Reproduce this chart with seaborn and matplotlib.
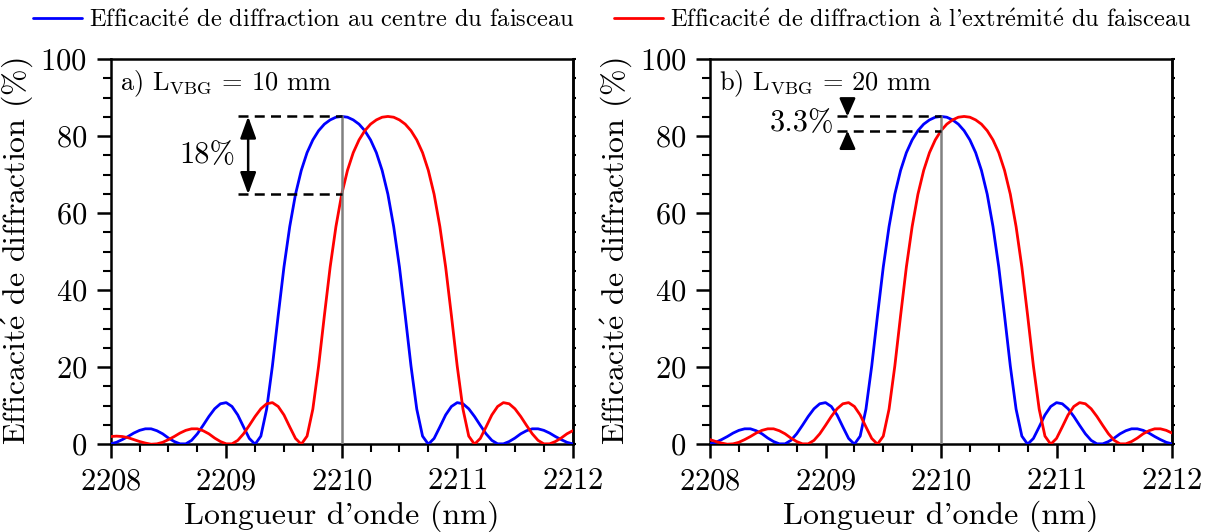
import numpy as np
import pandas as pd
import matplotlib
matplotlib.use('Agg')
import matplotlib.pyplot as plt
from matplotlib.lines import Line2D
from matplotlib.ticker import MultipleLocator
import seaborn as sns

# wavelength sampling (nm), 0.05 nm step
wavelength = np.round(np.arange(2208.0, 2212.001, 0.05), 2)

# diffraction efficiency (%)
# beam centre (same curve in both panels)
eff_centre = [0.1, 0.5, 1.2, 2.0, 2.9, 3.6, 4.0, 4.0, 3.5, 2.7, 1.6, 0.7, 0.1, 0.1, 1.0, 2.7, 4.9,
              7.2, 9.2, 10.5, 10.8, 9.8, 7.6, 4.5, 1.5, 0.0, 2.1, 9.1, 20.3, 33.4, 46.0, 56.5, 64.9,
              71.1, 75.7, 79.0, 81.4, 83.1, 84.2, 84.9, 85.1,
              84.9, 84.2, 83.1, 81.4, 79.0, 75.7, 71.1, 64.9, 56.5, 46.0, 33.4, 20.3, 9.1, 2.1, 0.0,
              1.5, 4.5, 7.6, 9.8, 10.8, 10.5, 9.2, 7.2, 4.9, 2.7, 1.0, 0.1, 0.1, 0.7, 1.6, 2.7, 3.5,
              4.0, 4.0, 3.6, 2.9, 2.0, 1.2, 0.5, 0.1]

# beam edge, L_VBG = 10 mm
eff_bord_10mm = [2.0, 2.1, 2.0, 1.7, 1.2, 0.7, 0.3, 0.0,
                 0.1, 0.5, 1.2, 2.0, 2.9, 3.6, 4.0, 4.0, 3.5, 2.7, 1.6, 0.7, 0.1, 0.1, 1.0, 2.7, 4.9,
                 7.2, 9.2, 10.5, 10.8, 9.8, 7.6, 4.5, 1.5, 0.0, 2.1, 9.1, 20.3, 33.4, 46.0, 56.5, 64.9,
                 71.1, 75.7, 79.0, 81.4, 83.1, 84.2, 84.9, 85.1,
                 84.9, 84.2, 83.1, 81.4, 79.0, 75.7, 71.1, 64.9, 56.5, 46.0, 33.4, 20.3, 9.1, 2.1, 0.0,
                 1.5, 4.5, 7.6, 9.8, 10.8, 10.5, 9.2, 7.2, 4.9, 2.7, 1.0, 0.1, 0.1, 0.7, 1.6, 2.7, 3.5]

# beam edge, L_VBG = 20 mm
eff_bord_20mm = [1.2, 0.7, 0.3, 0.0,
                 0.1, 0.5, 1.2, 2.0, 2.9, 3.6, 4.0, 4.0, 3.5, 2.7, 1.6, 0.7, 0.1, 0.1, 1.0, 2.7, 4.9,
                 7.2, 9.2, 10.5, 10.8, 9.8, 7.6, 4.5, 1.5, 0.0, 2.1, 9.1, 20.3, 33.4, 46.0, 56.5, 64.9,
                 71.1, 75.7, 79.0, 81.4, 83.1, 84.2, 84.9, 85.1,
                 84.9, 84.2, 83.1, 81.4, 79.0, 75.7, 71.1, 64.9, 56.5, 46.0, 33.4, 20.3, 9.1, 2.1, 0.0,
                 1.5, 4.5, 7.6, 9.8, 10.8, 10.5, 9.2, 7.2, 4.9, 2.7, 1.0, 0.1, 0.1, 0.7, 1.6, 2.7, 3.5,
                 4.0, 4.0, 3.6, 2.9]

panel_labels = [r'a) L$_{\mathrm{VBG}}$ = 10 mm', r'b) L$_{\mathrm{VBG}}$ = 20 mm']
drop_labels = ['18%', '3.3%']
legend_labels = [r'Efficacit$\mathrm{\acute{e}}$ de diffraction au centre du faisceau',
                 r"Efficacit$\mathrm{\acute{e}}$ de diffraction $\mathrm{\grave{a}}$ l'extr$\mathrm{\acute{e}}$mit$\mathrm{\acute{e}}$ du faisceau"]

sns.set_style('ticks')
plt.rcParams['font.family'] = ['cmr10', 'DejaVu Serif']
plt.rcParams['mathtext.fontset'] = 'cm'
plt.rcParams['axes.formatter.use_mathtext'] = True
plt.rcParams['axes.unicode_minus'] = False
plt.rcParams['axes.edgecolor'] = 'black'
plt.rcParams['xtick.color'] = 'black'
plt.rcParams['ytick.color'] = 'black'
plt.rcParams['text.color'] = 'black'
plt.rcParams['axes.labelcolor'] = 'black'

fig = plt.figure(figsize=(12.1, 5.32), dpi=100)
ax_a = fig.add_axes([0.0915, 0.165, 0.3818, 0.724])
ax_b = fig.add_axes([0.5868, 0.165, 0.3818, 0.724])

i_centre = int(np.argmin(np.abs(wavelength - 2210.0)))
peak = max(eff_centre)
head = dict(color='k', lw=1.8, mutation_scale=24, shrinkA=0, shrinkB=0)

for ax, edge, plabel, dlabel in zip([ax_a, ax_b], [eff_bord_10mm, eff_bord_20mm], panel_labels, drop_labels):
    df = pd.DataFrame({
        'lambda': np.concatenate([wavelength, wavelength]),
        'eta': eff_centre + edge,
        'pos': ['centre'] * len(wavelength) + ['bord'] * len(wavelength),
    })
    sns.lineplot(data=df, x='lambda', y='eta', hue='pos', palette={'centre': 'blue', 'bord': 'red'},
                 estimator=None, sort=False, legend=False, lw=2.0, ax=ax, zorder=3)

    edge_val = edge[i_centre]
    # vertical line at the Bragg wavelength
    ax.plot([2210, 2210], [0, peak], color='grey', lw=1.8, zorder=4)
    ax.hlines([peak, edge_val], 2209.1, 2210.0, colors='k', linestyles=(0, (4, 2.5)), lw=1.8, zorder=5)

    if ax is ax_a:
        ax.annotate('', xy=(2209.19, edge_val), xytext=(2209.19, peak),
                    arrowprops=dict(arrowstyle='<|-|>,head_length=0.55,head_width=0.2', **head))
        ax.text(2208.84, (peak + edge_val) / 2, dlabel, ha='center', va='center', fontsize=22)
    else:
        ax.annotate('', xy=(2209.19, peak), xytext=(2209.19, peak + 4.2),
                    arrowprops=dict(arrowstyle='-|>,head_length=0.45,head_width=0.2', **head))
        ax.annotate('', xy=(2209.19, edge_val), xytext=(2209.19, edge_val - 4.2),
                    arrowprops=dict(arrowstyle='-|>,head_length=0.45,head_width=0.2', **head))
        ax.text(2208.80, (peak + edge_val) / 2, dlabel, ha='center', va='center', fontsize=22)

    ax.text(2208.08, 92, plabel, ha='left', va='baseline', fontsize=19)

    ax.set_xlim(2208, 2212)
    ax.set_ylim(0, 100)
    ax.xaxis.set_major_locator(MultipleLocator(1))
    ax.xaxis.set_minor_locator(MultipleLocator(0.25))
    ax.yaxis.set_major_locator(MultipleLocator(20))
    ax.yaxis.set_minor_locator(MultipleLocator(5))
    ax.ticklabel_format(useOffset=False)
    ax.tick_params(which='major', direction='out', length=10, width=1.8, labelsize=22, pad=7)
    ax.tick_params(which='minor', direction='out', length=6, width=1.5)
    for s in ax.spines.values():
        s.set_linewidth(1.8)

    # small outer ticks on the right spine
    sec = ax.secondary_yaxis('right')
    sec.yaxis.set_major_locator(MultipleLocator(5))
    sec.tick_params(which='major', direction='out', length=2.5, width=1.5, labelright=False)
    sec.spines['right'].set_linewidth(1.8)

    ax.set_xlabel("Longueur d'onde (nm)", fontsize=23, labelpad=4)
    ax.set_ylabel(r'Efficacit$\mathrm{\acute{e}}$ de diffraction (%)', fontsize=23, labelpad=4)

handles = [Line2D([], [], color='blue', lw=2.0), Line2D([], [], color='red', lw=2.0)]
fig.legend(handles, legend_labels, loc='center', bbox_to_anchor=(0.506, 0.962), ncol=2, frameon=False,
           fontsize=17.6, handlelength=2.0, handletextpad=0.3, columnspacing=1.6, borderpad=0.0)

fig.savefig('out.png', dpi=100)
